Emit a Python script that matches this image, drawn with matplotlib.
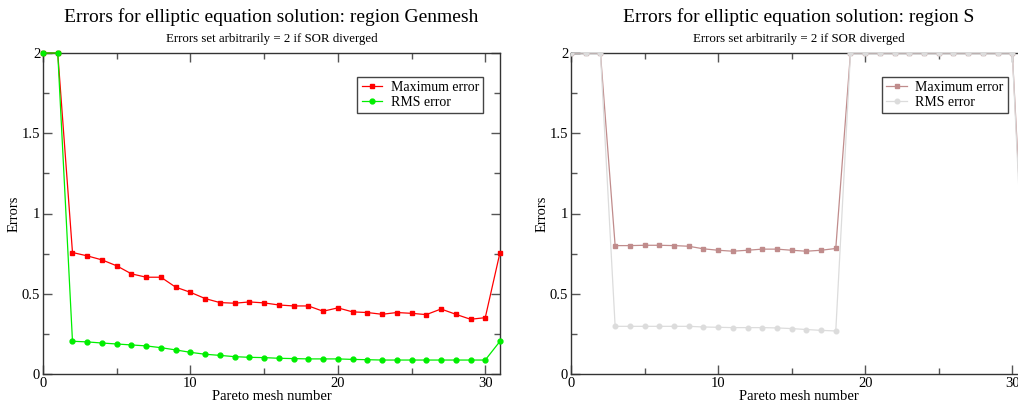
import numpy as np
import matplotlib.pyplot as plt
from matplotlib.ticker import MultipleLocator, FormatStrFormatter

plt.rcParams['font.family'] = ['Liberation Serif', 'DejaVu Serif']

# Данные: регион Genmesh
mesh_g = np.arange(32)
max_g = [2, 2, 0.757, 0.736, 0.711, 0.674, 0.624, 0.603, 0.603, 0.541, 0.509,
         0.470, 0.445, 0.441, 0.449, 0.443, 0.430, 0.424, 0.424, 0.391, 0.412,
         0.387, 0.383, 0.372, 0.383, 0.378, 0.370, 0.405, 0.372, 0.341, 0.351, 0.757]
rms_g = [2, 2, 0.204, 0.200, 0.193, 0.187, 0.181, 0.175, 0.164, 0.150, 0.135,
         0.123, 0.116, 0.108, 0.104, 0.102, 0.098, 0.096, 0.094, 0.094, 0.094,
         0.091, 0.089, 0.087, 0.087, 0.087, 0.087, 0.087, 0.087, 0.087, 0.087, 0.204]

# Данные: регион S
mesh_s = np.arange(32)
max_s = [2, 2, 2, 0.800, 0.800, 0.802, 0.802, 0.800, 0.796, 0.780, 0.771,
         0.765, 0.771, 0.778, 0.778, 0.771, 0.765, 0.771, 0.782, 2, 2,
         2, 2, 2, 2, 2, 2, 2, 2, 2, 2, 0.26]
rms_s = [2, 2, 2, 0.297, 0.297, 0.297, 0.297, 0.297, 0.297, 0.293, 0.291,
         0.289, 0.289, 0.289, 0.287, 0.283, 0.277, 0.272, 0.268, 2, 2,
         2, 2, 2, 2, 2, 2, 2, 2, 2, 2, 0.1]

titles = ['Errors for elliptic equation solution: region Genmesh',
          'Errors for elliptic equation solution: region S']
subtitle = 'Errors set arbitrarily = 2 if SOR diverged'

fig = plt.figure(figsize=(10.18, 4.05), dpi=100)
W, H = 1018, 405
ax1 = fig.add_axes([43 / W, 31 / H, 457 / W, 321 / H])
ax2 = fig.add_axes([571 / W, 31 / H, 456 / W, 321 / H])


def style(ax, title):
    ax.set_xlim(0, 31)
    ax.set_ylim(0, 2)
    ax.xaxis.set_major_locator(MultipleLocator(10))
    ax.xaxis.set_minor_locator(MultipleLocator(5))
    ax.yaxis.set_major_locator(MultipleLocator(0.5))
    ax.yaxis.set_minor_locator(MultipleLocator(0.25))
    ax.yaxis.set_major_formatter(FormatStrFormatter('%g'))
    ax.tick_params(which='both', direction='in', top=True, right=True,
                   color='#555555', labelsize=10.5, pad=2)
    ax.tick_params(which='major', length=6.5, width=1)
    ax.tick_params(which='minor', length=4, width=1)
    for s in ax.spines.values():
        s.set_color('#333333')
        s.set_linewidth(1.0)
    ax.set_xlabel('Pareto mesh number', fontsize=10.5, labelpad=0)
    ax.set_ylabel('Errors', fontsize=10.5, labelpad=1)
    ax.text(0.5, 1.097, title, transform=ax.transAxes, ha='center',
            va='baseline', fontsize=14)
    ax.text(0.5, 1.034, subtitle, transform=ax.transAxes, ha='center',
            va='baseline', fontsize=9.3)


def legend(ax, x):
    leg = ax.legend(loc='upper right', bbox_to_anchor=(x, 0.925),
                    fontsize=10, frameon=True, fancybox=False,
                    handlelength=1.5, borderpad=0.3, labelspacing=0.1,
                    handletextpad=0.6, borderaxespad=0, framealpha=1)
    leg.get_frame().set_edgecolor('#444444')
    leg.get_frame().set_linewidth(1.0)


style(ax1, titles[0])
ax1.plot(mesh_g, max_g, '-s', color='#ff0000', lw=0.9, ms=2.8,
         label='Maximum error', clip_on=False, zorder=3)
ax1.plot(mesh_g, rms_g, '-o', color='#00ee00', lw=0.9, ms=3.5,
         label='RMS error', clip_on=False, zorder=3)
legend(ax1, 0.963)

style(ax2, titles[1])
ax2.plot(mesh_s, max_s, '-s', color='#c08c8c', lw=0.9, ms=2.8,
         label='Maximum error', zorder=3)
ax2.plot(mesh_s, rms_s, '-o', color='#dcdcdc', lw=0.9, ms=3.3,
         label='RMS error', zorder=3)
legend(ax2, 0.958)

fig.savefig('out.png', dpi=100)
